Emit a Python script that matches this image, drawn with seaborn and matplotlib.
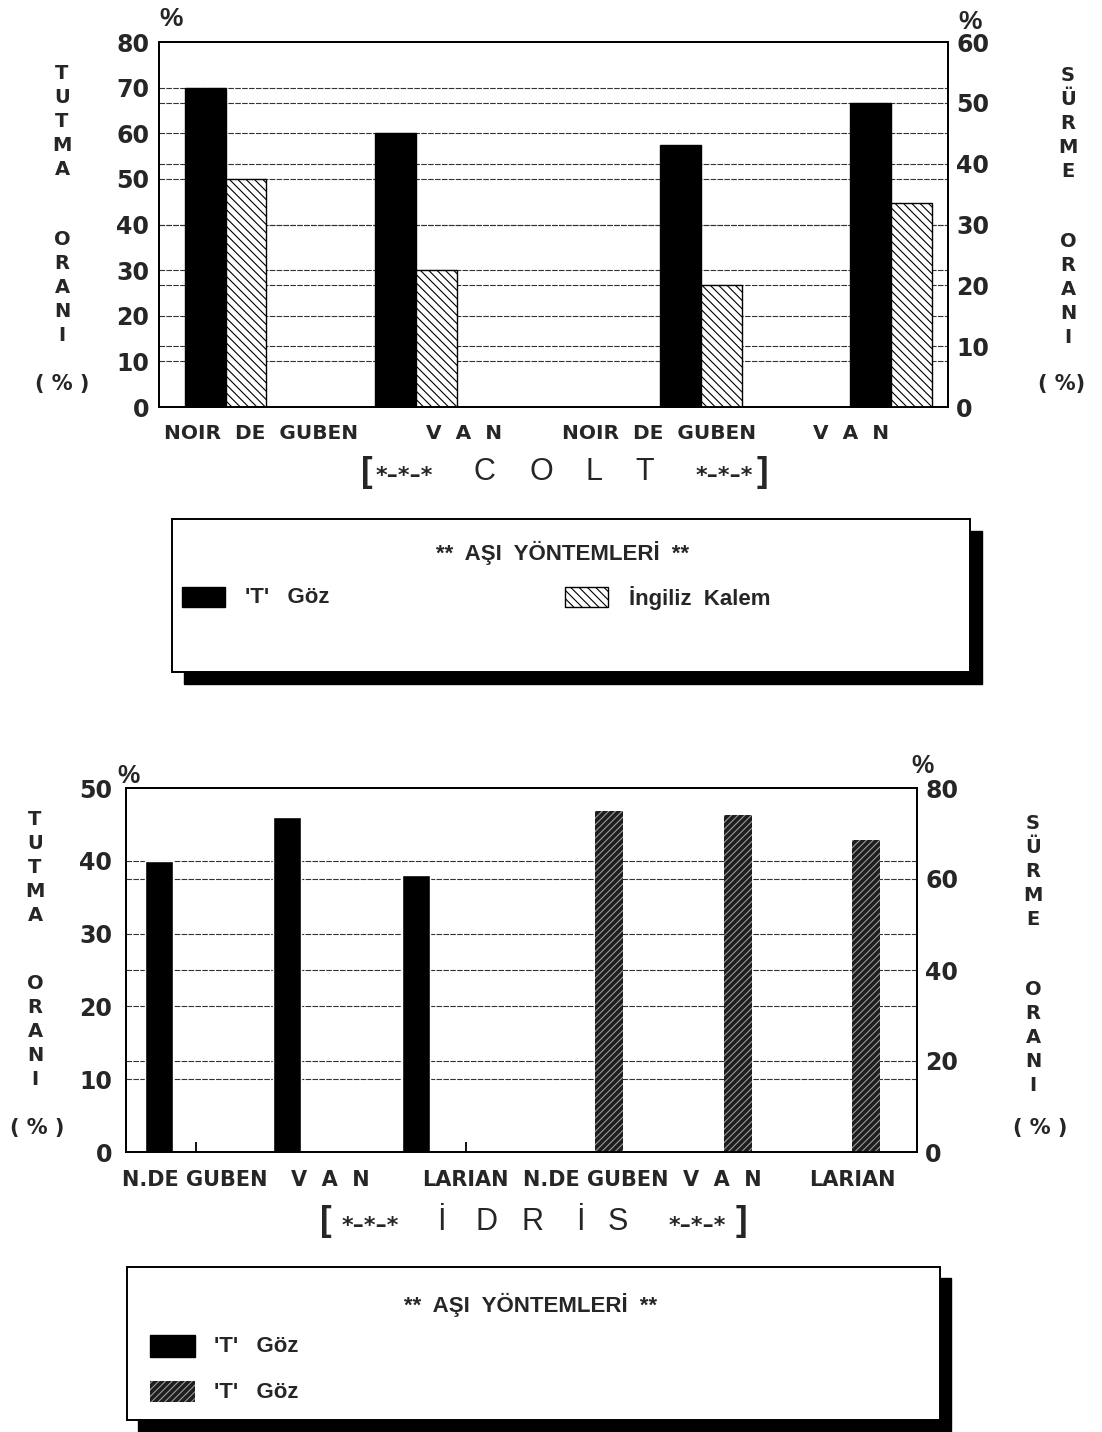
import numpy as np
import pandas as pd
import matplotlib
matplotlib.use("Agg")
import matplotlib.pyplot as plt
import seaborn as sns
from matplotlib.patches import Rectangle

sns.set_theme(style="white")
plt.rcParams["font.family"] = ["DejaVu Sans"]
plt.rcParams["hatch.linewidth"] = 0.8

# ---------------- data ----------------
colt_cultivars = ["NOIR DE GUBEN", "VAN"]
colt_methods = ["'T'   Göz", "İngiliz  Kalem"]
colt_tutma_tgoz = [70, 60]
colt_tutma_ingiliz = [50, 30]
colt_surme_tgoz = [43, 50]
colt_surme_ingiliz = [20, 33.5]
colt_xlabels = ["NOIR  DE  GUBEN", "V  A  N", "NOIR  DE  GUBEN", "V  A  N"]

idris_cultivars = ["N.DE GUBEN", "VAN", "LARIAN"]
idris_tutma_tgoz = [40, 46, 38]
idris_surme_tgoz = [75, 74, 68.5]
idris_xlabels = ["N.DE GUBEN", "V  A  N", "LARIAN", "N.DE GUBEN", "V  A  N", "LARIAN"]
idris_legend = ["'T'   Göz", "'T'   Göz"]

# ---------------- tables ----------------
def two_method_table(prefix, cultivars, a, b, methods):
    return pd.DataFrame({
        "slot": [prefix + c for c in cultivars] * 2,
        "method": [methods[0]] * len(cultivars) + [methods[1]] * len(cultivars),
        "value": list(a) + list(b),
    })

colt_t = two_method_table("T|", colt_cultivars, colt_tutma_tgoz, colt_tutma_ingiliz, colt_methods)
colt_s = two_method_table("S|", colt_cultivars, colt_surme_tgoz, colt_surme_ingiliz, colt_methods)
idris_t = pd.DataFrame({"slot": ["T|" + c for c in idris_cultivars], "value": idris_tutma_tgoz})
idris_s = pd.DataFrame({"slot": ["S|" + c for c in idris_cultivars], "value": idris_surme_tgoz})

# category slots (empty ones give the spacing of the original layout)
colt_order = ["T|NOIR DE GUBEN", "g1", "T|VAN", "g3", "g4", "S|NOIR DE GUBEN", "g6", "S|VAN"]
idris_order = ["T|N.DE GUBEN", "g1", "T|VAN", "g3", "T|LARIAN", "g5", "g6",
               "S|N.DE GUBEN", "g8", "S|VAN", "g10", "S|LARIAN"]

# ---------------- figure ----------------
W, H = 1102, 1432
fig = plt.figure(figsize=(W / 100, H / 100), dpi=100)
fig.patch.set_facecolor("white")

def fx(x):
    return x / W

def fy(y):
    return 1 - y / H

def axes_px(l, t, r, b):
    return fig.add_axes([fx(l), fy(b), (r - l) / W, (b - t) / H])

GRID = dict(color="#333333", lw=0.8, ls=(0, (5, 1.2)), zorder=0.5)
LIB = ["Liberation Sans", "DejaVu Sans"]


def style_axes(ax, ax2, lmax, lstep, rmax, rstep, lpad, rpad, size):
    ax.set_ylim(0, lmax)
    ax2.set_ylim(0, rmax)
    ax.set_yticks(np.arange(0, lmax + 1, lstep))
    ax2.set_yticks(np.arange(0, rmax + 1, rstep))
    for a in (ax, ax2):
        a.set_xlabel("")
        a.set_ylabel("")
        a.grid(False)
        for s in a.spines.values():
            s.set_color("black")
            s.set_linewidth(1.3)
    ax.tick_params(axis="y", length=0, pad=lpad, labelsize=size)
    ax2.tick_params(axis="y", length=0, pad=rpad, labelsize=size)
    for lab in ax.get_yticklabels() + ax2.get_yticklabels():
        lab.set_fontweight("bold")
    # grid lines of both scales, drawn behind the bars
    for v in np.arange(lstep, lmax, lstep):
        ax.axhline(v, **GRID)
    for v in np.arange(rstep, rmax, rstep):
        ax.axhline(v * lmax / rmax, **GRID)


# ======== COLT chart ========
ax = axes_px(159, 42, 948, 407)
ax2 = ax.twinx()
pal = {colt_methods[0]: "black", colt_methods[1]: "white"}
sns.barplot(data=colt_t, x="slot", y="value", hue="method", order=colt_order,
            hue_order=colt_methods, palette=pal, saturation=1, width=0.86,
            edgecolor="black", linewidth=1, errorbar=None, legend=False, ax=ax)
sns.barplot(data=colt_s, x="slot", y="value", hue="method", order=colt_order,
            hue_order=colt_methods, palette=pal, saturation=1, width=0.86,
            edgecolor="black", linewidth=1, errorbar=None, legend=False, ax=ax2)
for a in (ax, ax2):
    for bar in a.containers[1]:
        bar.set_hatch("\\\\\\\\")
style_axes(ax, ax2, 80, 10, 60, 10, 7, 6, 17)
ax.set_xlim(-0.70, 7.60)
ax.set_xticks([0.37, 2.51, 4.56, 6.58])
ax.set_xticklabels(colt_xlabels, fontsize=14.5, fontweight="bold")
ax.tick_params(axis="x", length=0, pad=12)
ax2.tick_params(axis="x", length=0)

# ======== IDRIS chart ========
bx = axes_px(126, 788, 917, 1152)
bx2 = bx.twinx()
sns.barplot(data=idris_t, x="slot", y="value", order=idris_order, color="black",
            saturation=1, width=0.435, errorbar=None, ax=bx)
sns.barplot(data=idris_s, x="slot", y="value", order=idris_order, color="#1e1e1e",
            saturation=1, width=0.435, errorbar=None, ax=bx2)
for bar in bx2.patches:
    bar.set_edgecolor("#9a9a9a")
    bar.set_linewidth(0)
    bar.set_hatch("/////")
style_axes(bx, bx2, 50, 10, 80, 20, 10, 6, 17)
bx.set_xlim(-0.51, 11.79)
bx.set_xticks([0.56, 2.66, 4.76, 6.8, 8.77, 10.79])
bx.set_xticklabels(idris_xlabels, fontsize=15, fontweight="bold")
bx.tick_params(axis="x", which="major", length=0, pad=13)
bx.set_xticks([0.58, 2.66, 4.77], minor=True)
bx.tick_params(axis="x", which="minor", direction="in", length=7, width=1.3,
               color="black", bottom=True)
bx2.tick_params(axis="x", length=0)

# ---------------- texts ----------------
def vtext(x, y, s, size=14, ls=1.33):
    fig.text(fx(x), fy(y), "\n".join(s), ha="center", va="top", fontsize=size,
             fontweight="bold", linespacing=ls)

def t(x, y, s, size=13, weight="bold", ha="center", va="center", family=None):
    kw = {}
    if family:
        kw["family"] = family
    fig.text(fx(x), fy(y), s, ha=ha, va=va, fontsize=size, fontweight=weight, **kw)

# axis titles, COLT
vtext(62, 64, "TUTMA")
vtext(62, 230, "ORANI")
t(62, 384, "( % )", 15)
vtext(1068, 66, "SÜRME")
vtext(1068, 232, "ORANI")
t(1062, 384, "( %)", 15)
t(171, 19, "%", 19, "bold", family=LIB)
t(970, 22, "%", 19, "bold", family=LIB)

# axis titles, IDRIS
vtext(35, 810, "TUTMA")
vtext(35, 974, "ORANI")
t(37, 1128, "( % )", 15)
vtext(1033, 814, "SÜRME")
vtext(1033, 980, "ORANI")
t(1040, 1128, "( % )", 15)
t(129, 776, "%", 18, "bold", family=LIB)
t(923, 766, "%", 18, "bold", family=LIB)

# group titles
t(367, 472, "[", 25, "bold", family=LIB)
t(404, 476, "*–*–*", 16, "bold")
for xx, ch in zip([484, 541, 594, 645], "COLT"):
    t(xx, 472, ch, 22, "normal", family=LIB)
t(724, 476, "*–*–*", 16, "bold")
t(762, 472, "]", 25, "bold", family=LIB)

t(326, 1222, "[", 25, "bold", family=LIB)
t(370, 1226, "*–*–*", 16, "bold")
for xx, ch in zip([441, 487, 533, 580, 618], "İDRİS"):
    t(xx, 1222, ch, 22, "normal", family=LIB)
t(697, 1226, "*–*–*", 16, "bold")
t(741, 1222, "]", 25, "bold", family=LIB)

# ---------------- legend boxes ----------------
ov = fig.add_axes([0, 0, 1, 1], zorder=-1)
ov.set_xlim(0, W)
ov.set_ylim(H, 0)
ov.axis("off")

def legend_box(l, t_, r, b, sh):
    ov.add_patch(Rectangle((l + sh, t_ + sh), r - l, b - t_, facecolor="black",
                           edgecolor="black", zorder=1))
    ov.add_patch(Rectangle((l, t_), r - l, b - t_, facecolor="white",
                           edgecolor="black", lw=1.4, zorder=2))

legend_box(172, 519, 970, 672, 12)
t(563, 553, "**  AŞI  YÖNTEMLERİ  **", 16, "bold", family=LIB)
ov.add_patch(Rectangle((182, 587), 43, 20, facecolor="black", edgecolor="black", zorder=3))
t(245, 598, colt_methods[0], 16, "bold", ha="left", family=LIB)
ov.add_patch(Rectangle((565, 587), 43, 20, facecolor="white", edgecolor="black",
                       hatch="\\\\\\\\", lw=1, zorder=3))
t(629, 598, colt_methods[1], 16, "bold", ha="left", family=LIB)

legend_box(127, 1267, 940, 1420, 11)
t(531, 1305, "**  AŞI  YÖNTEMLERİ  **", 16, "bold", family=LIB)
ov.add_patch(Rectangle((150, 1335), 45, 22, facecolor="black", edgecolor="black", zorder=3))
t(214, 1347, idris_legend[0], 16, "bold", ha="left", family=LIB)
ov.add_patch(Rectangle((150, 1381), 45, 21, facecolor="#1e1e1e", edgecolor="#9a9a9a",
                       hatch="/////", lw=0, zorder=3))
t(214, 1392, idris_legend[1], 16, "bold", ha="left", family=LIB)

fig.savefig("out.png", dpi=100, facecolor="white")
